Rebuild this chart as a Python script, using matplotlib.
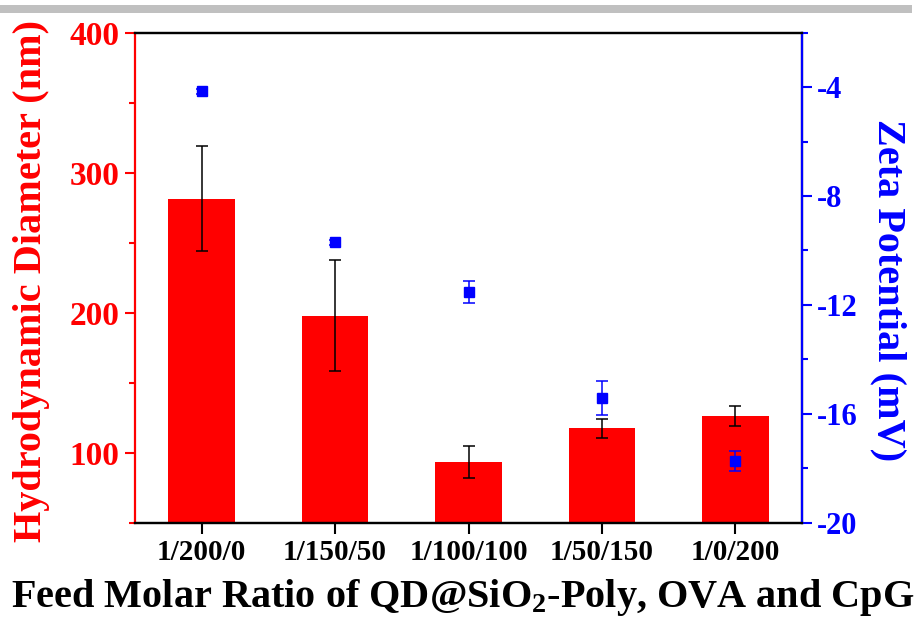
import matplotlib
matplotlib.use("Agg")
import matplotlib.pyplot as plt
from matplotlib.patches import Rectangle
from matplotlib.ticker import MultipleLocator

plt.rcParams['font.family'] = ['Liberation Serif', 'DejaVu Serif']
plt.rcParams['font.weight'] = 'bold'
plt.rcParams['axes.unicode_minus'] = False
plt.rcParams['mathtext.fontset'] = 'custom'
plt.rcParams['mathtext.rm'] = 'Liberation Serif:bold'
plt.rcParams['mathtext.bf'] = 'Liberation Serif:bold'
plt.rcParams['mathtext.default'] = 'bf'

categories = ["1/200/0", "1/150/50", "1/100/100", "1/50/150", "1/0/200"]
diameter = [281.4, 197.9, 93.4, 117.4, 126.0]
diameter_err = [37.5, 39.5, 11.4, 6.6, 7.1]
zeta = [-4.15, -9.70, -11.52, -15.42, -17.74]
zeta_err = [0.10, 0.10, 0.41, 0.63, 0.37]

W, H = 924, 624
fig = plt.figure(figsize=(W / 100, H / 100), dpi=100)
fig.patches.append(Rectangle((0, 1 - 13 / H), 912 / W, 8 / H, transform=fig.transFigure,
                             facecolor='#c0c0c0', edgecolor='none'))

ax = fig.add_axes([135 / W, 1 - 522.7 / H, 667 / W, 490 / H])
x = list(range(1, len(categories) + 1))
ax.bar(x, diameter, width=0.5, color='#ff0000', edgecolor='none', zorder=2)
ax.errorbar(x, diameter, yerr=diameter_err, fmt='none', ecolor='black', elinewidth=1.1,
            capsize=4.3, capthick=1.1, zorder=3)
ax.set_xlim(0.5, 5.5)
ax.set_ylim(50, 400)
ax.set_xticks(x)
ax.set_xticklabels(categories, fontsize=21, fontweight='bold')
ax.yaxis.set_major_locator(MultipleLocator(100))
ax.yaxis.set_minor_locator(MultipleLocator(50))
ax.tick_params(axis='y', which='major', colors='#ff0000', length=7, width=1.5, labelsize=24, pad=4)
ax.tick_params(axis='y', which='minor', colors='#ff0000', length=4, width=1.5)
ax.tick_params(axis='x', which='major', colors='black', length=8, width=1.5, pad=4)
for lab in ax.get_yticklabels():
    lab.set_fontweight('bold')
ax.spines['left'].set_color('#ff0000')
ax.spines['bottom'].set_color('black')
ax.spines['top'].set_color('black')
for s in ax.spines.values():
    s.set_linewidth(1.6)

ax2 = ax.twinx()
ax2.errorbar(x, zeta, yerr=zeta_err, fmt='s', color='#0000ff', markersize=7.5,
             ecolor='#0000ff', elinewidth=1.1, capsize=4, capthick=1.1, zorder=4)
ax2.set_ylim(-20, -2)
ax2.yaxis.set_major_locator(MultipleLocator(4))
ax2.yaxis.set_minor_locator(MultipleLocator(2))
ax2.set_yticks([-20, -16, -12, -8, -4])
ax2.tick_params(axis='y', which='major', colors='#0000ff', length=7, width=1.5, labelsize=22, pad=4)
ax2.tick_params(axis='y', which='minor', colors='#0000ff', length=4, width=1.5)
for lab in ax2.get_yticklabels():
    lab.set_fontweight('bold')
ax2.spines['right'].set_color('#0000ff')
ax2.spines['left'].set_visible(False)
ax2.spines['top'].set_color('black')
ax2.spines['bottom'].set_color('black')
for s in ax2.spines.values():
    s.set_linewidth(1.6)

fig.text(32 / W, 1 - 281 / H, "Hydrodynamic Diameter (nm)", rotation=90, ha='center', va='center',
         color='#ff0000', fontsize=29, fontweight='bold')
fig.text(888 / W, 1 - 290 / H, "Zeta Potential (mV)", rotation=-90, ha='center', va='center',
         color='#0000ff', fontsize=29, fontweight='bold')
fig.text(462.5 / W, 1 - 598 / H, r"Feed Molar Ratio of QD@SiO$_2$-Poly, OVA and CpG",
         ha='center', va='center', color='black', fontsize=29, fontweight='bold')

fig.savefig("out.png", dpi=100)
